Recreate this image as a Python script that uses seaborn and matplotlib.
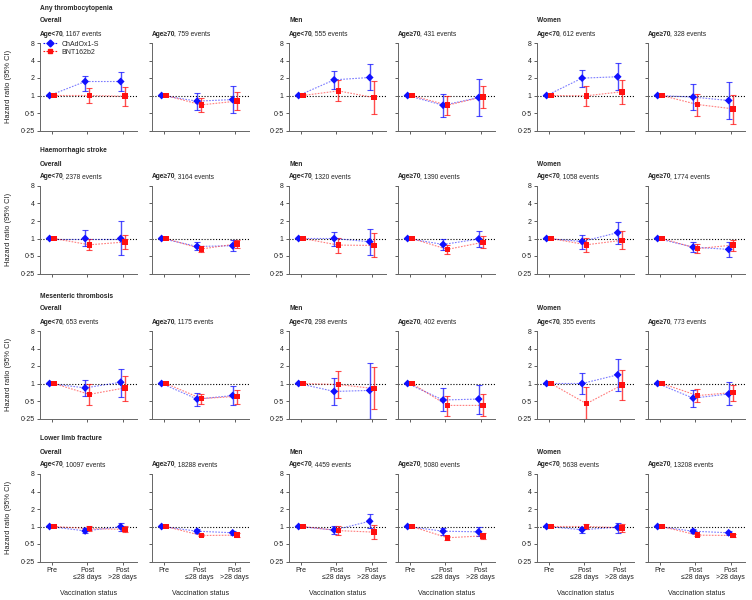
import pandas as pd
import seaborn as sns
import matplotlib.pyplot as plt
from matplotlib.lines import Line2D

sns.set_theme(style="ticks")
plt.rcParams['font.family'] = ['Liberation Sans', 'DejaVu Sans']

# ---- data ----
outcomes = ["Any thrombocytopenia", "Haemorrhagic stroke",
            "Mesenteric thrombosis", "Lower limb fracture"]
groups = ["Overall", "Men", "Women"]
age_bands = ["Age<70", "Age\u226570"]
status_labels = ["Pre", "Post\n\u226428 days", "Post\n>28 days"]
vaccines = ["ChAdOx1-S", "BNT162b2"]

events = [
    [1167, 759, 555, 431, 612, 328],
    [2378, 3164, 1320, 1390, 1058, 1774],
    [653, 1175, 298, 402, 355, 773],
    [10097, 18288, 4459, 5080, 5638, 13208],
]

# per outcome row, per panel: [post <=28 days, post >28 days]; pre is the reference (1)
chad_hr = [
    [[1.74, 1.74], [0.80, 0.85], [1.86, 2.04], [0.68, 0.92], [1.99, 2.10], [0.94, 0.82]],
    [[1.00, 1.00], [0.73, 0.75], [1.00, 0.88], [0.79, 0.98], [0.89, 1.26], [0.71, 0.65]],
    [[0.84, 1.05], [0.54, 0.62], [0.73, 0.76], [0.52, 0.54], [1.00, 1.41], [0.56, 0.66]],
    [[0.84, 0.99], [0.83, 0.78], [0.87, 1.23], [0.83, 0.81], [0.88, 0.97], [0.83, 0.78]],
]
chad_lo = [
    [[1.20, 1.20], [0.57, 0.51], [1.30, 1.22], [0.43, 0.45], [1.41, 1.24], [0.57, 0.39]],
    [[0.73, 0.52], [0.64, 0.61], [0.75, 0.53], [0.63, 0.72], [0.67, 0.80], [0.58, 0.48]],
    [[0.62, 0.59], [0.41, 0.43], [0.43, 0.25], [0.34, 0.30], [0.67, 0.74], [0.40, 0.42]],
    [[0.77, 0.83], [0.77, 0.71], [0.73, 0.94], [0.72, 0.69], [0.78, 0.76], [0.77, 0.71]],
]
chad_hi = [
    [[2.18, 2.49], [1.11, 1.43], [2.66, 3.50], [1.07, 1.94], [2.73, 3.66], [1.57, 1.74]],
    [[1.38, 1.98], [0.86, 0.95], [1.31, 1.47], [1.00, 1.34], [1.16, 1.91], [0.86, 0.87]],
    [[1.17, 1.79], [0.70, 0.90], [1.22, 2.21], [0.83, 0.95], [1.53, 2.66], [0.77, 1.07]],
    [[0.94, 1.16], [0.89, 0.84], [1.03, 1.64], [0.96, 0.97], [0.97, 1.17], [0.90, 0.85]],
]
bnt_hr = [
    [[1.00, 0.97], [0.69, 0.80], [1.20, 0.92], [0.68, 0.95], [0.99, 1.16], [0.70, 0.59]],
    [[0.78, 0.87], [0.66, 0.81], [0.77, 0.76], [0.65, 0.86], [0.78, 0.93], [0.67, 0.77]],
    [[0.65, 0.84], [0.55, 0.60], [0.96, 0.82], [0.42, 0.42], [0.45, 0.94], [0.62, 0.70]],
    [[0.92, 0.89], [0.70, 0.71], [0.85, 0.80], [0.64, 0.69], [1.00, 0.95], [0.71, 0.70]],
]
bnt_lo = [
    [[0.75, 0.66], [0.52, 0.57], [0.79, 0.49], [0.46, 0.62], [0.66, 0.72], [0.44, 0.32]],
    [[0.63, 0.67], [0.58, 0.68], [0.57, 0.48], [0.54, 0.70], [0.59, 0.66], [0.56, 0.61]],
    [[0.43, 0.51], [0.45, 0.45], [0.57, 0.36], [0.28, 0.28], [0.25, 0.52], [0.48, 0.51]],
    [[0.84, 0.79], [0.68, 0.67], [0.72, 0.60], [0.59, 0.62], [0.89, 0.81], [0.68, 0.67]],
]
bnt_hi = [
    [[1.34, 1.41], [0.90, 1.13], [1.86, 1.81], [0.99, 1.47], [1.47, 1.84], [1.07, 1.03]],
    [[0.97, 1.15], [0.74, 0.95], [1.04, 1.26], [0.76, 1.09], [1.04, 1.32], [0.80, 0.94]],
    [[0.99, 1.37], [0.67, 0.77], [1.67, 1.94], [0.62, 0.65], [0.86, 1.74], [0.81, 0.96]],
    [[1.03, 1.03], [0.73, 0.76], [1.01, 1.08], [0.70, 0.78], [1.12, 1.12], [0.74, 0.74]],
]

# ---- long table ----
rows = []
for r in range(4):
    for p in range(6):
        for vac, hr, lo, hi in [(vaccines[0], chad_hr, chad_lo, chad_hi),
                                (vaccines[1], bnt_hr, bnt_lo, bnt_hi)]:
            rows.append(dict(row=r, panel=p, vaccine=vac, status=0, hr=1.0, lo=None, hi=None))
            for s in range(2):
                rows.append(dict(row=r, panel=p, vaccine=vac, status=s + 1,
                                 hr=hr[r][p][s], lo=lo[r][p][s], hi=hi[r][p][s]))
df = pd.DataFrame(rows)
offsets = {vaccines[0]: -0.06, vaccines[1]: 0.06}
df["x"] = df["status"] + df["vaccine"].map(offsets)

colors = {vaccines[0]: "#1010ff", vaccines[1]: "#ff1010"}
markers = {vaccines[0]: "D", vaccines[1]: "s"}

# ---- layout (pixels) ----
W_PX, H_PX = 752, 600
lefts = [40, 152, 289, 398, 537, 648]
tops = [43, 186, 331, 474]
aw, ah = 97, 87.5
fs_head = 4.8
fs_tick = 5.0
fs_lab = 5.4

fig = plt.figure(figsize=(7.52, 6), dpi=100)


def fx(px):
    return px / W_PX


def fy(py):
    return 1 - py / H_PX


for r in range(4):
    fig.text(fx(lefts[0]), fy(tops[r] - 35), outcomes[r], fontsize=fs_head,
             fontweight="bold", va="center", ha="left")
    for p in range(6):
        ax = fig.add_axes([fx(lefts[p]), fy(tops[r] + ah), aw / W_PX, ah / H_PX])
        sub = df[(df.row == r) & (df.panel == p)]

        ax.axhline(1, color="black", ls=(0, (1, 1.6)), lw=0.8, zorder=1)
        for vac in vaccines:
            d = sub[(sub.vaccine == vac) & (sub.status > 0)]
            ax.errorbar(d.x, d.hr, yerr=[d.hr - d.lo, d.hi - d.hr], fmt="none",
                        ecolor=colors[vac], alpha=0.75, elinewidth=1.0,
                        capsize=2, capthick=0.8, zorder=2)
        sns.lineplot(data=sub, x="x", y="hr", hue="vaccine", palette=colors,
                     estimator=None, sort=False, units="vaccine", lw=0.8,
                     alpha=0.55, legend=False, ax=ax, zorder=3)
        for line in ax.lines[-2:]:
            line.set_linestyle((0, (1.5, 1.2)))
        sns.scatterplot(data=sub, x="x", y="hr", hue="vaccine", style="vaccine",
                        palette=colors, markers=markers, s=16, linewidth=0,
                        legend=False, ax=ax, zorder=4)

        ax.set_yscale("log", base=2)
        ax.set_ylim(0.25, 8)
        ax.set_xlim(-0.33, 2.4)
        ax.set_yticks([0.25, 0.5, 1, 2, 4, 8])
        ax.minorticks_off()
        ax.set_xticks([0, 1, 2])
        if p % 2 == 0:
            ax.set_yticklabels(["0\u00b725", "0\u00b75", "1", "2", "4", "8"])
        else:
            ax.set_yticklabels([])
        if r == 3:
            ax.set_xticklabels(status_labels, linespacing=1.0)
            ax.set_xlabel("Vaccination status", fontsize=fs_tick, color="#222222")
            ax.xaxis.set_label_coords(0.5, -0.33)
        else:
            ax.set_xticklabels([])
            ax.set_xlabel("")
        if p == 0:
            ax.set_ylabel("Hazard ratio (95% CI)", fontsize=fs_lab, color="#222222")
            ax.yaxis.set_label_coords(-0.29, 0.5)
        else:
            ax.set_ylabel("")
        ax.tick_params(labelsize=fs_tick, length=2.5, width=0.6, pad=1.5,
                       colors="#444444", labelcolor="#222222")
        sns.despine(ax=ax)
        for sp in ["left", "bottom"]:
            ax.spines[sp].set_color("#666666")
            ax.spines[sp].set_linewidth(0.7)

        if p % 2 == 0:
            fig.text(fx(lefts[p]), fy(tops[r] - 22), groups[p // 2], fontsize=fs_head,
                     fontweight="bold", va="center", ha="left")
        t = fig.text(fx(lefts[p]), fy(tops[r] - 9), age_bands[p % 2], fontsize=fs_head,
                     fontweight="bold", va="center", ha="left")
        ax.annotate(f", {events[r][p]} events", xy=(1, 0.5), xycoords=t,
                    xytext=(-1.0, 0), textcoords="offset points",
                    fontsize=fs_head, va="center", ha="left", annotation_clip=False)

        if r == 0 and p == 0:
            handles = [Line2D([], [], color=colors[v], marker=markers[v], ms=3.5,
                              ls=(0, (1.5, 1.2)), lw=0.8) for v in vaccines]
            ax.legend(handles, vaccines, loc="upper left", bbox_to_anchor=(0.0, 1.06),
                      frameon=False, fontsize=fs_tick, handlelength=2.2,
                      handletextpad=0.5, labelspacing=0.15, borderaxespad=0.0)

fig.savefig("out.png", dpi=100)
